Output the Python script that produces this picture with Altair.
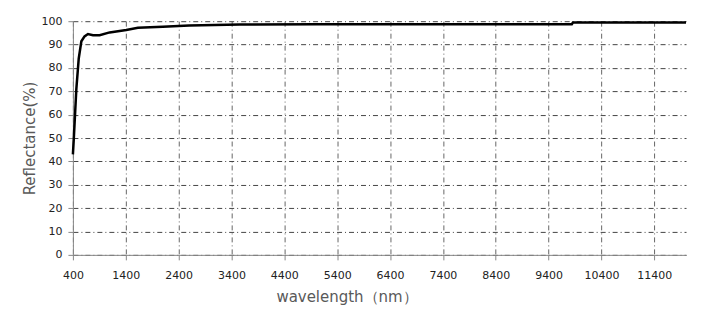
import altair as alt
import pandas as pd

wavelength = [400, 420, 465, 510, 560, 620, 685, 780, 905, 1095, 1410, 1630,
              2100, 2600, 3560, 5000, 7000, 9840, 9860, 12000]
reflectance = [43, 51, 71, 84, 91.4, 93.5, 94.5, 94, 94, 95.2, 96.2, 97.2,
               97.6, 98.2, 98.6, 98.7, 98.7, 98.7, 99.4, 99.4]
x_ticks = [400, 1400, 2400, 3400, 4400, 5400, 6400, 7400, 8400, 9400, 10400, 11400]
y_ticks = [0, 10, 20, 30, 40, 50, 60, 70, 80, 90, 100]

df = pd.DataFrame({"wl": wavelength, "r": reflectance})

chart = alt.Chart(df).mark_line(color="black", strokeWidth=2.5).encode(
    x=alt.X("wl:Q", scale=alt.Scale(domain=[400, 12000], nice=False, zero=False),
            axis=alt.Axis(values=x_ticks, title="wavelength（nm）", format="d",
                          titleX=274, titleY=35, titleFontSize=15,
                          titleFontWeight="normal", titleColor="#595959",
                          labelPadding=10, labelFlush=False,
                          gridColor="#666")),
    y=alt.Y("r:Q", scale=alt.Scale(domain=[0, 100], nice=False),
            axis=alt.Axis(values=y_ticks, title="Reflectance(%)",
                          titleFontSize=15, titleFontWeight="normal",
                          titleColor="#595959", titleX=-35, titleY=117,
                          labelPadding=6)),
).properties(
    width=614, height=234,
    autosize=alt.AutoSizeParams(type="none"),
    padding={"left": 65, "top": 13, "right": 18, "bottom": 57},
).configure_axis(
    grid=True, gridColor="#444", gridDash=[5, 3, 1, 3], gridWidth=1,
    domainColor="#888", tickColor="#888", tickSize=5,
    labelFont="DejaVu Sans", titleFont="DejaVu Sans",
    labelFontSize=11, labelColor="#222",
).configure_view(stroke=None)

chart.save("out.html", embed_options={"renderer": "svg", "actions": False})
